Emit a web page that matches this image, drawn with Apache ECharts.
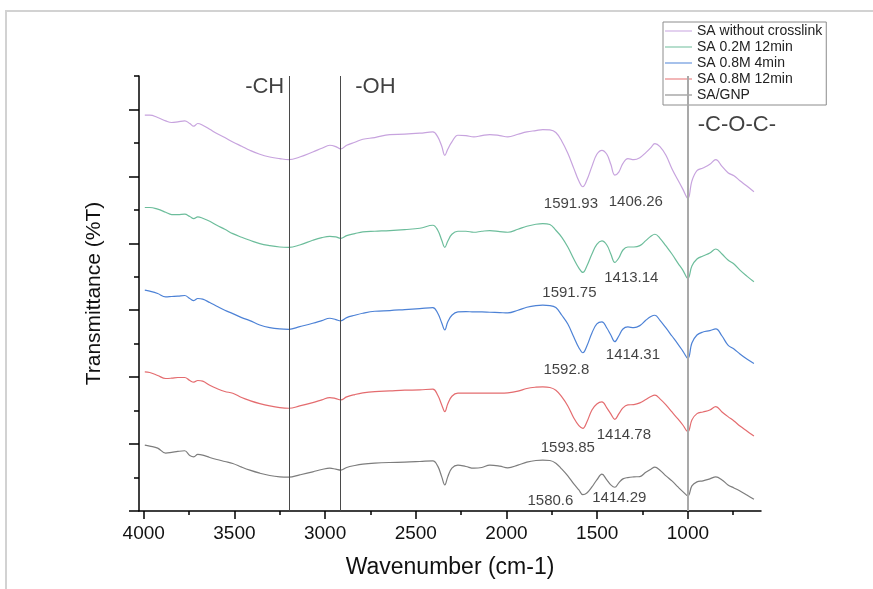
<!DOCTYPE html>
<html><head><meta charset="utf-8">
<script src="https://cdn.jsdelivr.net/npm/echarts@6/dist/echarts.min.js"></script>
<style>html,body{margin:0;padding:0;background:#fff}#c{width:873px;height:589px}</style>
</head><body><div id="c"></div>
<script>
// Wavenumber grid (cm-1) shared by all spectra
const wavenumber = [3994,3967,3923,3879,3846,3812,3774,3746,3724,3702,3675,3636,3597,3553,3509,3460,3415,3360,3305,3250,3200,3140,3068,3018,2974,2941,2914,2881,2836,2792,2726,2643,2561,2478,2406,2379,2357,2340,2324,2301,2268,2224,2180,2136,2092,2037,1993,1937,1888,1838,1800,1761,1728,1695,1662,1629,1601,1579,1557,1529,1502,1474,1447,1425,1403,1381,1358,1331,1298,1265,1232,1204,1182,1154,1121,1088,1055,1028,1000,978,950,917,879,846,812,779,746,713,675,636];
// Transmittance (stacked, arbitrary units)
const saWithoutCrosslink = [118.3,118.3,117.6,116.6,116.1,116.3,116.6,115.8,115.0,115.8,115.3,114.1,112.8,111.6,110.3,109.0,107.8,106.6,105.8,105.3,105.0,105.8,107.3,108.4,109.3,108.9,108.2,109.3,110.2,111.1,111.6,112.5,112.6,112.9,113.3,111.8,109.0,106.3,108.1,110.3,112.3,112.2,111.8,112.2,112.5,112.2,111.8,112.6,113.3,113.7,114.0,113.9,113.1,110.5,106.9,102.4,98.6,96.9,98.9,103.0,106.6,107.8,106.6,103.6,100.4,101.3,103.9,105.3,105.0,105.6,107.1,108.6,109.8,108.9,106.3,102.3,98.9,96.2,93.4,98.6,101.7,102.5,103.6,105.0,103.0,101.1,100.2,98.7,97.1,95.4];
const sa02M12min = [90.7,90.7,90.2,89.3,88.6,88.6,88.7,88.0,87.4,87.9,87.5,86.6,85.4,84.2,82.9,81.8,80.9,79.9,79.3,78.9,78.8,79.5,80.9,81.7,82.1,81.9,81.5,82.3,82.9,83.4,83.6,83.8,84.1,84.5,85.4,83.9,80.9,78.8,80.6,82.7,83.6,83.6,83.3,83.6,83.8,83.5,83.3,84.2,85.1,85.7,85.9,85.6,83.9,81.8,78.9,75.3,72.6,71.3,73.2,76.8,79.7,80.7,79.5,76.8,74.3,75.6,78.0,78.9,78.9,79.3,80.8,82.1,82.7,81.5,79.2,76.8,74.1,72.0,69.5,73.2,75.3,76.2,77.1,78.3,76.8,75.0,73.8,72.0,70.2,68.5];
const sa08M4min = [66.0,65.7,65.0,64.0,64.1,64.2,64.4,63.5,62.9,63.5,63.3,62.3,61.2,60.0,59.0,57.8,56.9,55.6,54.8,54.4,54.3,55.1,56.1,56.9,57.6,57.2,56.8,57.8,58.5,59.1,59.7,59.9,60.2,60.5,60.8,59.1,56.2,54.1,56.5,58.5,59.5,59.6,59.5,59.5,59.4,59.3,59.2,60.0,60.9,61.4,61.5,61.4,60.8,58.5,55.9,52.0,48.8,47.3,49.3,53.2,55.9,56.5,54.7,52.6,50.6,52.3,54.4,55.0,54.8,55.4,57.0,58.1,58.5,57.0,54.7,52.3,49.9,47.8,45.6,50.2,52.6,53.5,53.9,54.4,52.3,49.6,48.4,46.9,45.4,44.1];
const sa08M12min = [41.6,41.4,40.5,39.6,39.7,39.9,39.9,39.0,38.5,39.0,38.8,37.6,36.6,35.7,35.2,33.9,33.0,32.1,31.4,30.9,30.7,31.4,32.4,33.2,33.9,33.6,33.2,34.1,34.8,35.3,35.7,35.9,36.1,36.2,36.4,34.6,31.7,29.7,32.0,34.3,35.2,35.2,35.2,35.2,35.2,35.2,35.3,35.8,36.6,37.0,37.1,36.9,36.1,34.1,31.4,27.8,25.5,24.7,26.6,30.2,32.0,32.6,30.8,29.0,27.4,29.0,30.8,31.7,31.8,32.3,33.3,34.2,34.6,33.5,31.7,29.6,27.5,25.7,23.7,27.2,29.1,29.6,30.2,31.2,29.6,28.2,26.9,25.4,23.9,22.4];
const saGNP = [19.7,19.4,18.8,17.3,17.5,17.8,18.0,16.6,16.2,16.9,16.7,16.0,15.4,14.8,14.2,13.1,12.2,11.3,10.6,10.2,10.1,10.8,11.7,12.4,12.8,12.5,12.2,13.0,13.6,14.0,14.3,14.5,14.6,14.8,15.0,13.4,10.2,7.8,10.2,12.8,13.7,13.3,12.8,13.0,13.7,13.4,12.9,13.7,14.6,15.1,15.2,15.1,14.3,12.5,10.5,8.1,6.3,4.9,5.4,7.2,9.3,11.0,9.3,7.8,7.1,8.4,9.6,10.0,10.2,10.3,11.6,12.5,13.1,12.2,10.5,9.0,7.2,5.8,4.5,7.5,8.7,9.0,9.6,10.2,9.3,7.8,6.9,6.0,4.8,3.5];

const seriesNames = ['SA without crosslink','SA 0.2M 12min','SA 0.8M 4min','SA 0.8M 12min','SA/GNP'];
const seriesColors = ['#c7a3de','#6cbd9b','#4d82d6','#e46c6f','#7d7d7d'];
const xTickValues = [4000,3500,3000,2500,2000,1500,1000];
const xMinorTickValues = [3750,3250,2750,2250,1750,1250,750];
const yMajorTicks = [0,20,40,60,80,100,120];
const yMinorTicks = [10,30,50,70,90,110,130];
const bandLines = [3200,2915,1000];
const bandLabels = ['-CH','-OH','-C-O-C-'];
const bandLabelX = [3333,2723,730];
const bandLabelY = [126.6,126.6,115.3];
const peakLabels = ['1591.93','1406.26','1413.14','1591.75','1414.31','1592.8','1414.78','1593.85','1580.6','1414.29'];
const peakLabelX = [1645,1287,1312,1653,1303,1670,1353,1662,1758,1378];
const peakLabelY = [91.7,92.3,69.6,65.1,46.6,42.1,22.8,18.8,3.1,3.8];

const FONT = 'Liberation Sans, Arial, sans-serif';
const allData = [saWithoutCrosslink, sa02M12min, sa08M4min, sa08M12min, saGNP];
const chart = echarts.init(document.getElementById('c'), null, {renderer:'canvas'});

const lineSeries = allData.map((arr, k) => ({
  name: seriesNames[k], type: 'line', xAxisIndex: 0, yAxisIndex: 0,
  data: wavenumber.map((w, i) => [w, arr[i]]),
  showSymbol: false, symbol: 'none', smooth: 0.4,
  lineStyle: {color: seriesColors[k], width: 1.2},
  itemStyle: {color: seriesColors[k]},
  z: 3,
  markLine: k === 4 ? {
    silent: true, symbol: ['none','none'], animation: false,
    label: {show: false},
    data: bandLines.map((v, i) => ({xAxis: v, lineStyle: {type: 'solid', color: i < 2 ? '#4a4a4a' : '#a9a9a9', width: i < 2 ? 1 : 2}}))
  } : undefined
}));

const textSeries = [
  {type:'scatter', xAxisIndex:0, yAxisIndex:0, symbolSize:1, itemStyle:{color:'rgba(0,0,0,0)'}, silent:true, z:6,
   data: bandLabelX.map((x,i)=>[x, bandLabelY[i]]),
   label:{show:true, position:'inside', formatter:p=>bandLabels[p.dataIndex], fontSize:22, color:'#111', fontFamily:FONT}},
  {type:'scatter', xAxisIndex:0, yAxisIndex:0, symbolSize:1, itemStyle:{color:'rgba(0,0,0,0)'}, silent:true, z:6,
   data: peakLabelX.map((x,i)=>[x, peakLabelY[i]]),
   label:{show:true, position:'inside', formatter:p=>peakLabels[p.dataIndex], fontSize:15, color:'#111', fontFamily:FONT}}
];

const axisLineStyle = {color:'#000', width:1.5};
chart.setOption({
  animation: false,
  backgroundColor: '#fff',
  textStyle: {fontFamily: FONT},
  grid: {left:139, top:76, width:622, height:435, containLabel:false},
  legend: {
    data: seriesNames, orient:'vertical', left:663, top:22, padding:[1,4,2,2], itemGap:0,
    itemWidth:27, itemHeight:1, icon:'rect', selectedMode:false,
    textStyle:{fontSize:14, lineHeight:16, color:'#222', fontFamily:FONT},
    borderColor:'#8c8c8c', borderWidth:1, backgroundColor:'#fff'
  },
  xAxis: [
    {type:'value', inverse:true, min:597, max:4026, position:'bottom',
     axisLine:{show:true, onZero:false, lineStyle:axisLineStyle},
     axisTick:{show:true, customValues:xTickValues, length:8, lineStyle:axisLineStyle},
     axisLabel:{show:true, customValues:xTickValues, formatter:v=>String(v), margin:13, fontSize:19, color:'#111', fontFamily:FONT},
     splitLine:{show:false},
     name:'Wavenumber (cm-1)', nameLocation:'middle', nameGap:45,
     nameTextStyle:{fontSize:23, color:'#111', fontFamily:FONT}},
    {type:'value', inverse:true, min:597, max:4026, position:'bottom',
     axisLine:{show:false, onZero:false},
     axisTick:{show:true, customValues:xMinorTickValues, length:4, lineStyle:axisLineStyle},
     axisLabel:{show:false}, splitLine:{show:false}}
  ],
  yAxis: [
    {type:'value', min:0, max:130, position:'left',
     axisLine:{show:true, onZero:false, lineStyle:axisLineStyle},
     axisTick:{show:true, customValues:yMajorTicks, length:10, lineStyle:axisLineStyle},
     axisLabel:{show:false}, splitLine:{show:false},
     name:'Transmittance (%T)', nameLocation:'middle', nameGap:34,
     nameTextStyle:{fontSize:21, color:'#111', fontFamily:FONT}},
    {type:'value', min:0, max:130, position:'left',
     axisLine:{show:false, onZero:false},
     axisTick:{show:true, customValues:yMinorTicks, length:5, lineStyle:axisLineStyle},
     axisLabel:{show:false}, splitLine:{show:false}}
  ],
  graphic: [
    {type:'rect', silent:true, z:-10, shape:{x:6, y:11, width:900, height:620}, style:{fill:null, stroke:'#d2d2d2', lineWidth:2}}
  ],
  series: lineSeries.concat(textSeries)
});
</script></body></html>
